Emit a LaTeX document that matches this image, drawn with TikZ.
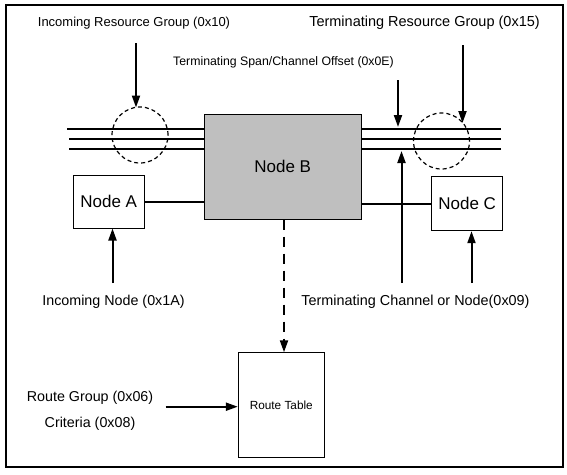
\documentclass[tikz,border=0pt]{standalone}
\usepackage{fontspec}
\setmainfont{Liberation Sans}
\usetikzlibrary{arrows.meta}
\begin{document}
\begin{tikzpicture}[x=1pt,y=-1pt,
  box/.style={draw=black,line width=1pt,fill=white,inner sep=0pt,font=\fontsize{17}{20}\selectfont},
  ring/.style={draw=black,line width=1.2pt,dash pattern=on 4pt off 3pt,circle,minimum size=56pt,inner sep=0pt},
  lab/.style={inner sep=0pt,font=\fontsize{14.3}{17}\selectfont},
  arr/.style={line width=2pt,-{Triangle[length=12pt,width=8pt]}},
  wire/.style={line width=2pt},
  thin wire/.style={line width=1.5pt}]
\useasboundingbox (0,0) rectangle (567,474);
\draw[line width=2pt] (6,5) rectangle (563,467);
% nodes
\node[box,fill=black!25,minimum width=157.5pt,minimum height=105pt] (B) at (282.75,166.5) {Node B};
\node[box,minimum width=71pt,minimum height=53pt] (A) at (108.7,201.5) {Node A};
\node[box,minimum width=71pt,minimum height=54pt] (C) at (467.2,203.7) {Node C};
\node[box,minimum width=86pt,minimum height=105pt,font=\fontsize{11.8}{14}\selectfont] (RT) at (281.3,405.3) {Route Table};
% trunk lines
\coordinate (l1) at (67,128.5);
\coordinate (l2) at (69,139);
\coordinate (l3) at (69,149);
\coordinate (r1) at (501,129);
\coordinate (r2) at (501,139);
\coordinate (r3) at (501,149);
\draw[wire] (l1) -- (l1 -| B.west);
\draw[thin wire] (l2) -- (l2 -| B.west);
\draw[wire] (l3) -- (l3 -| B.west);
\draw[thin wire] (r1) -- (r1 -| B.east);
\draw[thin wire] (r2) -- (r2 -| B.east);
\draw[thin wire] (r3) -- (r3 -| B.east);
\node[ring] (c1) at (140,135) {};
\node[ring] (c2) at (441.5,141) {};
% connectors between nodes
\draw[wire] (A.east) -- (A.east -| B.west);
\draw[wire] (C.west) -- (C.west -| B.east);
% labels
\node[lab,font=\fontsize{13}{16}\selectfont] (t1) at (134,23) {Incoming Resource Group (0x10)};
\node[lab,font=\fontsize{14.5}{17}\selectfont] (t2) at (424.5,23) {Terminating Resource Group (0x15)};
\node[lab,font=\fontsize{12.3}{15}\selectfont] (t3) at (283.5,62) {Terminating Span/Channel Offset (0x0E)};
\node[lab] (t4) at (113.5,301.5) {Incoming Node (0x1A)};
\node[lab,font=\fontsize{14.4}{17}\selectfont] (t5) at (415.5,301.5) {Terminating Channel or Node(0x09)};
\node[lab,align=center,font=\fontsize{14.3}{26}\selectfont] (t6) at (90,410.5) {Route Group (0x06)\\Criteria (0x08)};
% arrow end points
\coordinate (s1) at (136,43);   \coordinate (e1) at (136,107.5);
\coordinate (s2) at (462.5,45); \coordinate (e2) at (462.5,123);
\coordinate (s3) at (398,80);   \coordinate (e3) at (398,127);
\coordinate (s4) at (112.5,283);
\coordinate (s5) at (401.5,283); \coordinate (e5) at (401.5,151);
\coordinate (s6) at (471.5,283);
\coordinate (s7) at (165.7,406.7);
\draw[arr] (s1) -- (e1);
\draw[arr] (s2) -- (e2);
\draw[arr] (s3) -- (e3);
\draw[arr] (s4) -- (s4 |- A.south);
\draw[arr] (s5) -- (e5);
\draw[arr] (s6) -- (s6 |- C.south);
\draw[arr] (s7) -- (s7 -| RT.west);
\draw[arr,dash pattern=on 10pt off 7pt] (B.south -| 284,0) -- (RT.north -| 284,0);
\end{tikzpicture}
\end{document}
